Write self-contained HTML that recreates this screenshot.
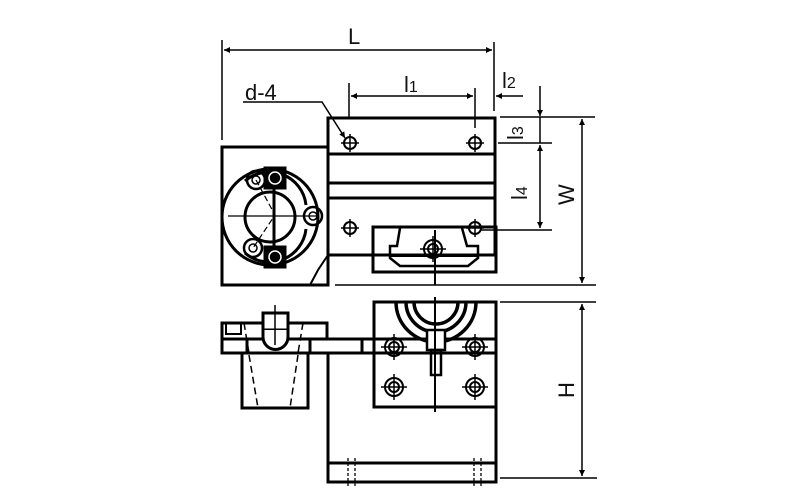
<!DOCTYPE html>
<html><head><meta charset="utf-8"><style>
html,body{margin:0;padding:0;background:#fff}
svg{display:block}
text{font-family:"Liberation Sans",sans-serif;fill:#111}
</style></head><body>
<svg width="800" height="500" viewBox="0 0 800 500" xmlns="http://www.w3.org/2000/svg">
<defs>
<marker id="a" viewBox="0 0 10 10" refX="10" refY="5" markerWidth="9" markerHeight="6" orient="auto-start-reverse" markerUnits="userSpaceOnUse"><path d="M0,0L10,5L0,10z" fill="#000"/></marker>
<g id="h"><circle r="6" fill="none" stroke="#000" stroke-width="2"/><line x1="-9" y1="0" x2="9" y2="0" stroke="#000" stroke-width="1.5"/><line x1="0" y1="-9" x2="0" y2="9" stroke="#000" stroke-width="1.5"/></g>
<g id="hh"><circle r="9" fill="none" stroke="#000" stroke-width="2"/><circle r="5" fill="none" stroke="#000" stroke-width="2"/><line x1="-13" y1="0" x2="13" y2="0" stroke="#000" stroke-width="1.5"/><line x1="0" y1="-13" x2="0" y2="13" stroke="#000" stroke-width="1.5"/></g>
<g id="sc"><circle r="9" fill="none" stroke="#000" stroke-width="2.5"/><circle r="4" fill="none" stroke="#000" stroke-width="1.5"/></g>
</defs>
<g stroke="#000" fill="none">
<g stroke-width="1.5">
<line x1="222" y1="40" x2="222" y2="140"/>
<line x1="494" y1="42" x2="494" y2="111"/>
<line x1="224" y1="50" x2="492" y2="50" marker-start="url(#a)" marker-end="url(#a)"/>
<line x1="349" y1="83" x2="349" y2="118"/>
<line x1="475" y1="88" x2="475" y2="128"/>
<line x1="351" y1="96" x2="473" y2="96" marker-start="url(#a)" marker-end="url(#a)"/>
<line x1="523" y1="96" x2="496" y2="96" marker-end="url(#a)"/>
<polyline points="243,102 322,102 345,138" marker-end="url(#a)"/>
<line x1="540" y1="86" x2="540" y2="116" marker-end="url(#a)"/>
<line x1="540" y1="117" x2="540" y2="143"/>
<line x1="540" y1="145" x2="540" y2="228" marker-start="url(#a)" marker-end="url(#a)"/>
<line x1="500" y1="117" x2="595" y2="117"/>
<line x1="498" y1="143" x2="552" y2="143"/>
<line x1="480" y1="230" x2="552" y2="230"/>
<line x1="582" y1="119" x2="582" y2="283" marker-start="url(#a)" marker-end="url(#a)"/>
<line x1="335" y1="285" x2="596" y2="285"/>
<line x1="500" y1="302" x2="596" y2="302"/>
<line x1="500" y1="478" x2="597" y2="478"/>
<line x1="582" y1="304" x2="582" y2="476" marker-start="url(#a)" marker-end="url(#a)"/>
</g>
<g stroke-width="3">
<rect x="328" y="118" width="167" height="137"/>
<line x1="328" y1="154" x2="495" y2="154"/>
<line x1="328" y1="183" x2="495" y2="183"/>
<line x1="328" y1="198" x2="495" y2="198"/>
<rect x="222" y="147" width="106" height="138"/>
<rect x="373" y="227" width="123" height="45"/>
<circle cx="270" cy="217" r="48"/>
<path d="M245,181 A37,37 0 0 1 306,205 M306,229 A37,37 0 0 1 245,253"/>
<circle cx="270" cy="217" r="25"/>
<line x1="274" y1="170" x2="274" y2="262"/>
<path d="M400,228 L397,246 L390,246 L390,258 L400,266 L468,266 L478,258 L478,246 L467,246 L462,228" stroke-width="2.5"/>
<line x1="390" y1="256" x2="478" y2="256" stroke-width="2"/>
</g>
<rect x="264" y="167" width="22" height="22" fill="#000"/>
<rect x="264" y="246" width="22" height="22" fill="#000"/>
<circle cx="275" cy="178" r="6" stroke="#fff" stroke-width="1.5"/>
<circle cx="275" cy="257" r="6" stroke="#fff" stroke-width="1.5"/>
<use href="#sc" x="256" y="180"/><use href="#sc" x="253" y="248"/><use href="#sc" x="313" y="216"/>
<line x1="228" y1="216" x2="318" y2="216" stroke-width="1.2"/>
<path d="M256,180 L275,215 L253,248" stroke-width="1.2" stroke-dasharray="6,3"/>
<path d="M328,255 L318,270 L310,285" stroke-width="2"/>
<use href="#h" x="350" y="143"/><use href="#h" x="475" y="143"/>
<use href="#h" x="350" y="228"/><use href="#h" x="475" y="228"/>
<use href="#hh" x="433" y="249"/>
<line x1="435" y1="230" x2="435" y2="285" stroke-width="2"/>
<g stroke-width="3">
<rect x="374" y="302" width="122" height="105"/>
<rect x="328" y="339" width="168" height="143"/>
<line x1="328" y1="463" x2="496" y2="463"/>
<rect x="222" y="339" width="274" height="14" fill="#fff"/>
<rect x="222" y="323" width="105" height="16"/>
<rect x="242" y="353" width="66" height="55"/>
<line x1="247" y1="339" x2="247" y2="353"/><line x1="310" y1="339" x2="310" y2="353"/>
<line x1="362" y1="339" x2="362" y2="353"/><line x1="374" y1="339" x2="374" y2="353"/>
<rect x="263" y="313" width="25" height="17" fill="#fff"/>
<path d="M263,330 L263,337 A12,12 0 0 0 288,337 L288,330" fill="#fff"/>
<rect x="226" y="323" width="15" height="11" stroke-width="2"/>
<path d="M396,302 A40,40 0 0 0 476,302 M406,302 A30,30 0 0 0 466,302 M414,302 A22,22 0 0 0 458,302" stroke-width="3.5"/>
<rect x="427" y="330" width="18" height="20" fill="#fff" stroke-width="2.5"/>
<rect x="431" y="350" width="10" height="25" stroke-width="2.5"/>
</g>
<line x1="435" y1="297" x2="435" y2="412" stroke-width="2"/>
<line x1="275" y1="305" x2="275" y2="345" stroke-width="1.5"/>
<path d="M249,355 L258,408 M298,355 L290,408 M244,323 L249,353 M303,323 L298,353" stroke-width="1.5" stroke-dasharray="7,4"/>
<path d="M348,458 V487 M355,458 V487 M474,458 V487 M481,458 V487" stroke-width="1.3" stroke-dasharray="3,2"/>
<use href="#hh" x="394" y="347"/><use href="#hh" x="475" y="347"/>
<use href="#hh" x="394" y="387"/><use href="#hh" x="475" y="387"/>
</g>
<g font-size="22">
<text x="348" y="44">L</text>
<text x="404" y="92">l<tspan font-size="16">1</tspan></text>
<text x="502" y="88">l<tspan font-size="16">2</tspan></text>
<text x="245" y="100">d-4</text>
<text transform="translate(523,140) rotate(-90)">l<tspan font-size="16">3</tspan></text>
<text transform="translate(527,200) rotate(-90)">l<tspan font-size="16">4</tspan></text>
<text transform="translate(574,205) rotate(-90)">W</text>
<text transform="translate(574,398) rotate(-90)">H</text>
</g>
</svg>
</body></html>
